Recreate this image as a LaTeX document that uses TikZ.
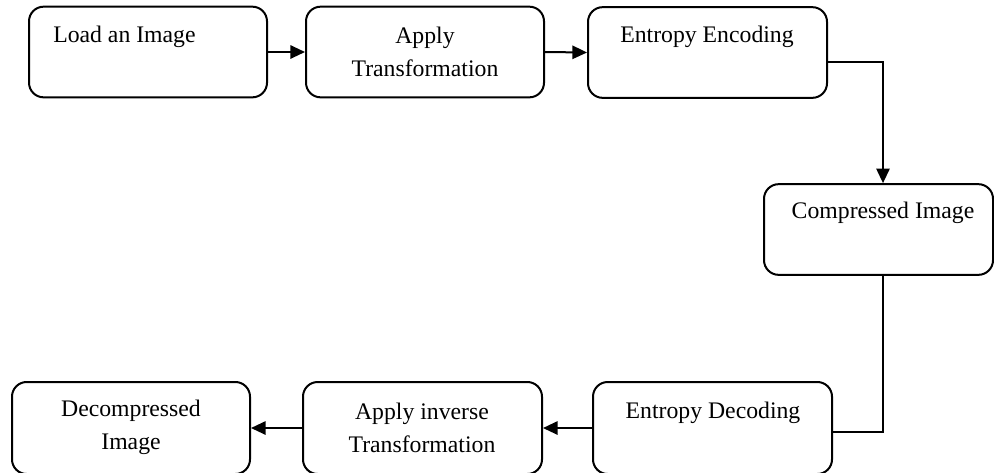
\documentclass[tikz,border=0pt]{standalone}
\usepackage{fontspec}
\setmainfont{Liberation Serif}
\usetikzlibrary{arrows.meta,calc}
\begin{document}
\begin{tikzpicture}[x=0.75pt,y=-0.75pt,
  box/.style={draw=black,line width=1.5pt,rounded corners=11pt,minimum width=178.5pt,minimum height=68pt,inner sep=0pt},
  txt/.style={font=\fontsize{17.8}{24.75}\selectfont,inner sep=0pt,align=center},
  conn/.style={line width=1.5pt},
  arr/.style={conn,-{Triangle[length=11pt,width=10pt]}}]
\useasboundingbox (0,0) rectangle (994,472);
% boxes
\node[box] (B1) at (148,52) {};
\node[box] (B2) at (425,52) {};
\node[box,minimum width=179.25pt] (B3) at (707.5,52.5) {};
\node[box,minimum width=171.75pt] (B4) at (878.5,229.5) {};
\node[box,minimum height=69pt] (B5) at (131,428) {};
\node[box,minimum width=179.25pt,minimum height=69pt] (B6) at (422.5,428) {};
\node[box,minimum width=179.25pt,minimum height=69pt] (B7) at (712.5,428) {};
% texts
\node[txt,anchor=west] (T1) at (53,37) {Load an Image};
\node[txt] (T2) at (425,51.5) {Apply\\Transformation};
\node[txt] (T3) at (707,37) {Entropy Encoding};
\node[txt] (T4) at (883,213) {Compressed Image};
\node[txt] (T5) at (131,427.5) {Decompressed\\Image};
\node[txt] (T6) at (422,427.5) {Apply inverse\\Transformation};
\node[txt] (T7) at (713,413) {Entropy Decoding};
% connectors
\draw[arr] (B1.east) -- (B2.west);
\draw[arr] (B2.east) -- (B3.west);
\coordinate (c1) at (883,62);
\draw[arr] (B3.east |- c1) -- (c1) -- (B4.north -| c1);
\coordinate (c2) at (883,432);
\draw[conn] (B4.south -| c2) -- (c2) -- (B7.east |- c2);
\draw[arr] (B7.west) -- (B6.east);
\draw[arr] (B6.west) -- (B5.east);
\end{tikzpicture}
\end{document}
